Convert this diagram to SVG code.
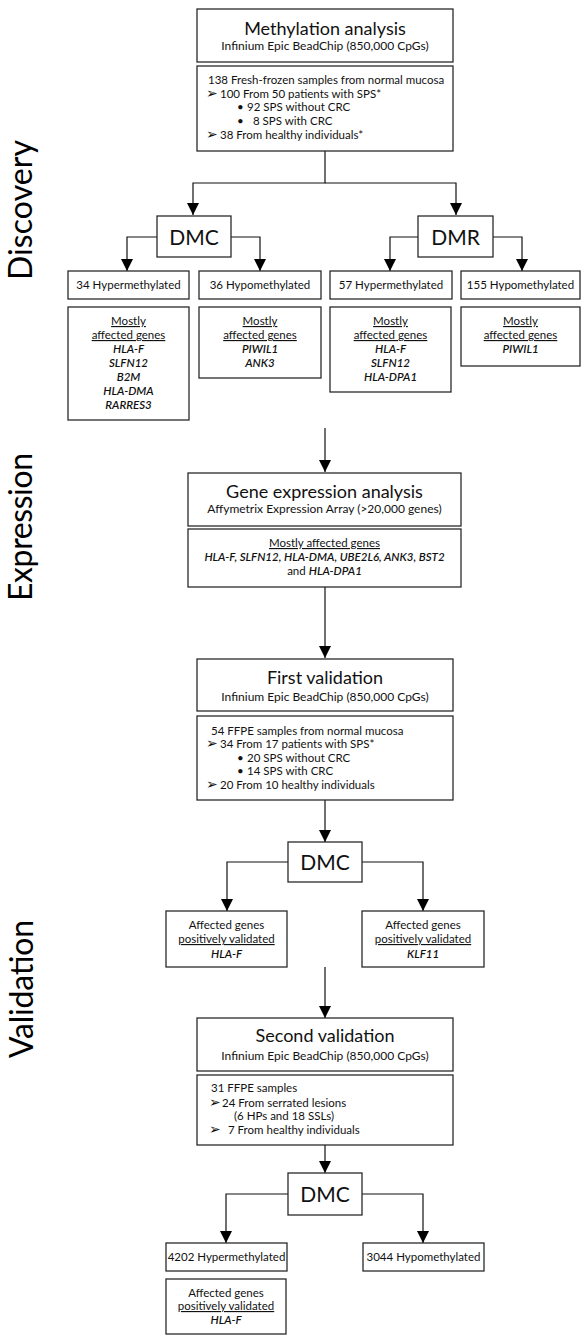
<svg xmlns="http://www.w3.org/2000/svg" width="581" height="1335" viewBox="0 0 581 1335">
<style>
.box{fill:#fff;stroke:#2a2a2a;stroke-width:1.3}
text{font-family:Lato,"Liberation Sans",sans-serif;fill:#111}
.title{font-size:18px;text-anchor:middle}
.sub{font-size:12px;text-anchor:middle}
.s{font-size:11.5px}
.c{text-anchor:middle}
.g{font-style:italic;font-weight:600}
.u{text-decoration:underline}
.dm{font-size:21px;text-anchor:middle}
.side{font-size:32px;text-anchor:middle;fill:#000}
.ar{font-family:"DejaVu Sans",sans-serif;font-size:14px;font-weight:bold}
.conn path{fill:none;stroke:#111;stroke-width:1.2}
</style>
<defs>
<marker id="ah" markerUnits="userSpaceOnUse" markerWidth="12" markerHeight="12" refX="12" refY="6" orient="auto">
<path d="M0,0 L12,6 L0,12 z" fill="#000"/>
</marker>
</defs>

<g id="side-labels">
<text class="side" transform="translate(32,210) rotate(-90)" textLength="140">Discovery</text>
<text class="side" transform="translate(32,527) rotate(-90)" textLength="148">Expression</text>
<text class="side" transform="translate(33,989) rotate(-90)" textLength="138">Validation</text>
</g>

<g class="conn" id="connectors">
<path d="M325,151 V183 H193 V215" marker-end="url(#ah)"/>
<path d="M325,183 H456 V215" marker-end="url(#ah)"/>
<path d="M157,237 H127 V271" marker-end="url(#ah)"/>
<path d="M231,237 H260 V271" marker-end="url(#ah)"/>
<path d="M418,237 H390 V271" marker-end="url(#ah)"/>
<path d="M493,237 H522 V271" marker-end="url(#ah)"/>
<path d="M325,428 V472" marker-end="url(#ah)"/>
<path d="M325,587 V658" marker-end="url(#ah)"/>
<path d="M325,800 V842" marker-end="url(#ah)"/>
<path d="M288,862 H227 V911" marker-end="url(#ah)"/>
<path d="M362,862 H423 V911" marker-end="url(#ah)"/>
<path d="M325,967 V1018" marker-end="url(#ah)"/>
<path d="M325,1145 V1173" marker-end="url(#ah)"/>
<path d="M288,1194 H226 V1243" marker-end="url(#ah)"/>
<path d="M362,1194 H423 V1243" marker-end="url(#ah)"/>
</g>

<g id="methylation">
<rect class="box" x="197" y="9" width="256" height="53"/>
<text class="title" x="325" y="35">Methylation analysis</text>
<text class="sub" x="325" y="50">Infinium Epic BeadChip (850,000 CpGs)</text>
</g>
<g id="meth-samples">
<rect class="box" x="197" y="66" width="256" height="85"/>
<text class="s" x="208" y="84">138 Fresh-frozen samples from normal mucosa</text>
<text class="s" x="206" y="98"><tspan class="ar">➢</tspan><tspan x="220">100 From 50 patients with SPS*</tspan></text>
<text class="s" x="237" y="111">•<tspan x="247">92 SPS without CRC</tspan></text>
<text class="s" x="237" y="125">•<tspan x="253">8 SPS with CRC</tspan></text>
<text class="s" x="206" y="139"><tspan class="ar">➢</tspan><tspan x="220">38 From healthy individuals*</tspan></text>
</g>

<g id="dmc1">
<rect class="box" x="157" y="216" width="74" height="41"/>
<text class="dm" x="194" y="245">DMC</text>
</g>
<g id="dmr">
<rect class="box" x="418" y="216" width="75" height="41"/>
<text class="dm" x="455.5" y="245">DMR</text>
</g>

<g id="hyper34">
<rect class="box" x="68" y="271" width="121" height="28"/>
<text class="s c" x="128.5" y="289">34 Hypermethylated</text>
</g>
<g id="hypo36">
<rect class="box" x="199" y="271" width="122" height="28"/>
<text class="s c" x="260" y="289">36 Hypomethylated</text>
</g>
<g id="hyper57">
<rect class="box" x="330" y="271" width="122" height="28"/>
<text class="s c" x="391" y="289">57 Hypermethylated</text>
</g>
<g id="hypo155">
<rect class="box" x="461" y="271" width="119" height="28"/>
<text class="s c" x="520.5" y="289">155 Hypomethylated</text>
</g>

<g id="genes34">
<rect class="box" x="68" y="307" width="121" height="113"/>
<text class="s c u" x="128.5" y="325">Mostly</text>
<text class="s c u" x="128.5" y="339">affected genes</text>
<text class="s c g" x="128.5" y="353">HLA-F</text>
<text class="s c g" x="128.5" y="367">SLFN12</text>
<text class="s c g" x="128.5" y="381">B2M</text>
<text class="s c g" x="128.5" y="395">HLA-DMA</text>
<text class="s c g" x="128.5" y="409">RARRES3</text>
</g>
<g id="genes36">
<rect class="box" x="199" y="307" width="122" height="71"/>
<text class="s c u" x="260" y="325">Mostly</text>
<text class="s c u" x="260" y="339">affected genes</text>
<text class="s c g" x="260" y="353">PIWIL1</text>
<text class="s c g" x="260" y="367">ANK3</text>
</g>
<g id="genes57">
<rect class="box" x="330" y="307" width="121" height="85"/>
<text class="s c u" x="390.5" y="325">Mostly</text>
<text class="s c u" x="390.5" y="339">affected genes</text>
<text class="s c g" x="390.5" y="353">HLA-F</text>
<text class="s c g" x="390.5" y="367">SLFN12</text>
<text class="s c g" x="390.5" y="381">HLA-DPA1</text>
</g>
<g id="genes155">
<rect class="box" x="461" y="307" width="119" height="59"/>
<text class="s c u" x="520.5" y="325">Mostly</text>
<text class="s c u" x="520.5" y="339">affected genes</text>
<text class="s c g" x="520.5" y="353">PIWIL1</text>
</g>

<g id="expression">
<rect class="box" x="188" y="473" width="273" height="53"/>
<text class="title" x="324.5" y="498">Gene expression analysis</text>
<text class="sub" x="324.5" y="513">Affymetrix Expression Array (&gt;20,000 genes)</text>
</g>
<g id="expr-genes">
<rect class="box" x="188" y="529" width="273" height="58"/>
<text class="s c u" x="324.5" y="547">Mostly affected genes</text>
<text class="s c g" x="324.5" y="561">HLA-F, SLFN12, HLA-DMA, UBE2L6, ANK3, BST2</text>
<text class="s c" x="324.5" y="575">and <tspan class="g">HLA-DPA1</tspan></text>
</g>

<g id="first-validation">
<rect class="box" x="197" y="659" width="256" height="52"/>
<text class="title" x="325" y="684">First validation</text>
<text class="sub" x="325" y="701">Infinium Epic BeadChip (850,000 CpGs)</text>
</g>
<g id="fv-samples">
<rect class="box" x="197" y="716" width="256" height="84"/>
<text class="s" x="211" y="735">54 FFPE samples from normal mucosa</text>
<text class="s" x="206" y="748"><tspan class="ar">➢</tspan><tspan x="220">34 From 17 patients with SPS*</tspan></text>
<text class="s" x="237" y="762">•<tspan x="247">20 SPS without CRC</tspan></text>
<text class="s" x="237" y="775">•<tspan x="247">14 SPS with CRC</tspan></text>
<text class="s" x="206" y="789"><tspan class="ar">➢</tspan><tspan x="220">20 From 10 healthy individuals</tspan></text>
</g>

<g id="dmc2">
<rect class="box" x="288" y="842" width="74" height="40"/>
<text class="dm" x="325" y="870">DMC</text>
</g>
<g id="validated1">
<rect class="box" x="166" y="911" width="121" height="56"/>
<text class="s c" x="226.5" y="929">Affected genes</text>
<text class="s c u" x="226.5" y="943">positively validated</text>
<text class="s c g" x="226.5" y="958">HLA-F</text>
</g>
<g id="validated2">
<rect class="box" x="362" y="911" width="122" height="56"/>
<text class="s c" x="423" y="929">Affected genes</text>
<text class="s c u" x="423" y="943">positively validated</text>
<text class="s c g" x="423" y="958">KLF11</text>
</g>

<g id="second-validation">
<rect class="box" x="197" y="1018" width="256" height="53"/>
<text class="title" x="325" y="1042">Second validation</text>
<text class="sub" x="325" y="1060">Infinium Epic BeadChip (850,000 CpGs)</text>
</g>
<g id="sv-samples">
<rect class="box" x="197" y="1075" width="256" height="70"/>
<text class="s" x="211" y="1092">31 FFPE samples</text>
<text class="s" x="209" y="1107"><tspan class="ar">➢</tspan><tspan x="222">24 From serrated lesions</tspan></text>
<text class="s" x="234" y="1120">(6 HPs and 18 SSLs)</text>
<text class="s" x="209" y="1134"><tspan class="ar">➢</tspan><tspan x="228">7 From healthy individuals</tspan></text>
</g>

<g id="dmc3">
<rect class="box" x="288" y="1173" width="74" height="42"/>
<text class="dm" x="325" y="1202">DMC</text>
</g>
<g id="hyper4202">
<rect class="box" x="166" y="1243" width="121" height="28"/>
<text class="s c" x="226.5" y="1261">4202 Hypermethylated</text>
</g>
<g id="hypo3044">
<rect class="box" x="363" y="1243" width="121" height="28"/>
<text class="s c" x="423.5" y="1261">3044 Hypomethylated</text>
</g>
<g id="validated3">
<rect class="box" x="166" y="1279" width="120" height="55"/>
<text class="s c" x="226" y="1297">Affected genes</text>
<text class="s c u" x="226" y="1310">positively validated</text>
<text class="s c g" x="226" y="1324">HLA-F</text>
</g>
</svg>
